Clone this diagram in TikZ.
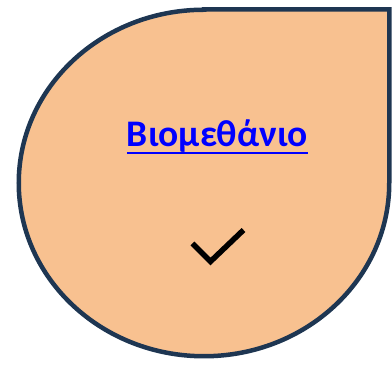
\documentclass[tikz,border=0pt]{standalone}
\usepackage{fontspec}
\setmainfont{Carlito}
\definecolor{peach}{RGB}{248,193,144}
\definecolor{navy}{RGB}{30,54,82}
\definecolor{linkblue}{RGB}{0,0,255}
\newcommand{\linktext}[1]{{\setbox0\hbox{#1}\rlap{\rule[-7pt]{\wd0}{2.4pt}}\box0}}

\begin{document}
\begin{tikzpicture}
[x=1pt,y=1pt,drop/.style={fill=peach,draw=navy,line width=4.5pt},
 no/.style={inner sep=0pt},tick/.style={line width=5.5pt,line join=miter}]
\useasboundingbox (0,0) rectangle (392,371);

\draw [drop] (204,361.5) -- (389.25,361.5) -- (389.25,188)
  arc[start angle=0,end angle=-270,x radius=185.25,y radius=173.25] -- cycle;

\node [no,anchor=base,text=linkblue,font=\bfseries\fontsize{37.5}{42}\selectfont] at (217.5,224) (name) {\linktext{Βιομεθάνιο}};

\coordinate (t1) at (192.5,127.5);
\coordinate (t2) at (210.5,109.5);
\coordinate (t3) at (243.5,141);
\draw [tick] (t1) -- (t2) -- (t3);
\end{tikzpicture}
\end{document}
